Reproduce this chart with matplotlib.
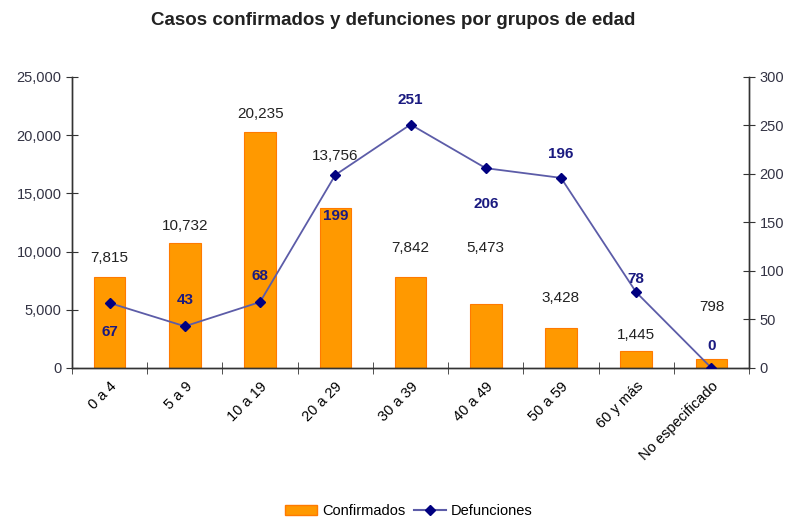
import matplotlib.pyplot as plt
import matplotlib.font_manager as fm
from matplotlib.lines import Line2D
from matplotlib.patches import Patch

grupos = ["0 a 4", "5 a 9", "10 a 19", "20 a 29", "30 a 39", "40 a 49",
          "50 a 59", "60 y más", "No especificado"]
confirmados = [7815, 10732, 20235, 13756, 7842, 5473, 3428, 1445, 798]
defunciones = [67, 43, 68, 199, 251, 206, 196, 78, 0]

# pixel offsets of the value labels from their marks
off_conf = [19, 17, 18, 52, 29, 56, 30, 16, 52]
off_def = [-29, 26, 26, -41, 25, -36, 24, 13, 22]

names = {f.name for f in fm.fontManager.ttflist}
fam = "Liberation Sans Narrow" if "Liberation Sans Narrow" in names else "Liberation Sans"
plt.rcParams["font.family"] = [fam, "DejaVu Sans"]

fig = plt.figure(figsize=(7.86, 5.23), dpi=100)
ax = fig.add_axes([0.0916, 0.2964, 0.8614, 0.5564])
ax2 = ax.twinx()

x = list(range(len(grupos)))
ax.bar(x, confirmados, width=0.42, color="#FF9900", edgecolor="#FF7A00", linewidth=0.8, zorder=1)
ax2.plot(x, defunciones, color="#5C5CA8", linewidth=1.3, marker="D", markersize=5,
         markerfacecolor="#000080", markeredgecolor="#000080", zorder=3)

ax.set_xlim(-0.5, len(grupos) - 0.5)
ax.set_ylim(0, 25000)
ax2.set_ylim(0, 300)
ax.set_yticks(range(0, 25001, 5000))
ax.set_yticklabels([f"{v:,}" for v in range(0, 25001, 5000)])
ax2.set_yticks(range(0, 301, 50))

ax.set_xticks(x)
ax.set_xticklabels(grupos, rotation=45, ha="right", rotation_mode="anchor", fontsize=10.5)
ax.set_xticks([i - 0.5 for i in range(len(grupos) + 1)], minor=True)
ax.tick_params(axis="x", which="major", length=0, pad=8)
ax.tick_params(axis="x", which="minor", direction="inout", length=8, color="#333333")
ax.tick_params(axis="y", direction="inout", length=8, labelsize=10.5, color="#333333",
               labelcolor="#333344")
ax2.tick_params(axis="y", direction="inout", length=8, labelsize=10.5, color="#333333",
                labelcolor="#333344")

for a in (ax, ax2):
    a.spines["top"].set_visible(False)
    for s in ("left", "right", "bottom"):
        a.spines[s].set_color("#333333")
        a.spines[s].set_linewidth(1.0)

ax.set_zorder(1)
ax2.set_zorder(2)
ax.patch.set_visible(False)

for xi, v, d in zip(x, confirmados, off_conf):
    ax.annotate(f"{v:,}", (xi, v), xytext=(0, d), textcoords="offset pixels",
                ha="center", va="center", fontsize=11, color="#222222")
for xi, v, d in zip(x, defunciones, off_def):
    ax2.annotate(str(v), (xi, v), xytext=(0, d), textcoords="offset pixels",
                 ha="center", va="center", fontsize=11, color="#1A1A80", fontweight="bold")

fig.suptitle("Casos confirmados y defunciones por grupos de edad", x=0.5, y=0.978,
             fontsize=13.5, fontweight="bold", color="#222222")

handles = [Patch(facecolor="#FF9900", edgecolor="#FF7A00", label="Confirmados"),
           Line2D([], [], color="#5C5CA8", marker="D", markersize=5, markerfacecolor="#000080",
                  markeredgecolor="#000080", label="Defunciones")]
fig.legend(handles=handles, loc="center", bbox_to_anchor=(0.52, 0.023), ncol=2, frameon=False,
           fontsize=10.5, handlelength=2.2, handletextpad=0.3, columnspacing=0.6)

fig.savefig("out.png", dpi=100)
